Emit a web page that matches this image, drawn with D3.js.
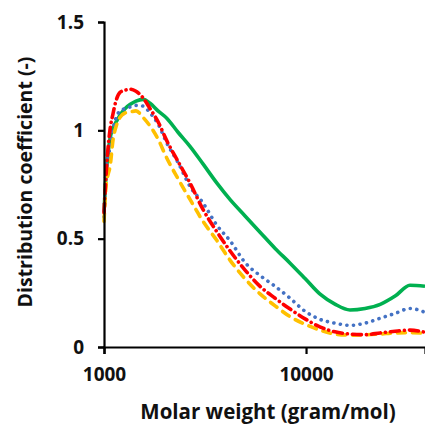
<!DOCTYPE html>
<html><head><meta charset="utf-8">
<script src="https://cdn.jsdelivr.net/npm/d3@7/dist/d3.min.js"></script>
<style>body{margin:0;background:#fff}svg{display:block}</style>
</head><body><svg id="c" width="425" height="424"></svg>
<script>
const molarWeight = [1000,1025,1050,1070,1110,1150,1200,1270,1350,1440,1560,1690,1850,2050,2330,2670,3090,3630,4210,4990,5920,7030,8340,9890,11700,13900,16500,19600,23300,27600,32700,38800];
const green  = [0.62,0.80,0.90,0.96,1.01,1.04,1.07,1.10,1.12,1.135,1.143,1.125,1.09,1.055,0.99,0.925,0.845,0.755,0.68,0.605,0.53,0.455,0.387,0.316,0.245,0.198,0.171,0.178,0.197,0.235,0.285,0.28];
const blue   = [0.60,0.825,0.88,0.92,1.01,1.06,1.09,1.10,1.108,1.115,1.112,1.08,1.03,0.94,0.85,0.74,0.665,0.56,0.49,0.39,0.33,0.28,0.225,0.165,0.128,0.11,0.10,0.11,0.133,0.155,0.178,0.16];
const red    = [0.62,0.80,0.93,1.00,1.08,1.14,1.175,1.185,1.19,1.18,1.15,1.10,1.04,0.95,0.855,0.755,0.635,0.53,0.443,0.355,0.28,0.225,0.175,0.13,0.093,0.07,0.06,0.057,0.065,0.073,0.078,0.068];
const orange = [0.58,0.75,0.80,0.83,0.96,1.02,1.06,1.08,1.085,1.09,1.06,1.02,0.96,0.87,0.775,0.68,0.58,0.49,0.40,0.315,0.245,0.19,0.14,0.105,0.078,0.06,0.055,0.056,0.06,0.065,0.066,0.063];
const xTicks = [1000,10000];
const yTicks = [0,0.5,1,1.5];
const yTickLabels = ["0","0.5","1","1.5"];
const xTitle = "Molar weight (gram/mol)";
const yTitle = "Distribution coefficient (-)";

const svg = d3.select("#c");
const x = d3.scaleLog().domain([1000,38800]).range([104,425]);
const y = d3.scaleLinear().domain([0,1.5]).range([347,22]);
const font = "'Open Sans', sans-serif";

const series = [
  {v:green,  color:"#00b050", dash:null},
  {v:blue,   color:"#4472c4", dash:"0.1 6.5"},
  {v:orange, color:"#ffc000", dash:"8 7"},
  {v:red,    color:"#ff0000", dash:"9 5 0.1 5"}
];
const line = d3.line().x((d,i)=>x(molarWeight[i])).y(d=>y(d)).curve(d3.curveMonotoneX);
svg.append("defs").append("clipPath").attr("id","pc").append("rect")
  .attr("x",100).attr("y",0).attr("width",325).attr("height",360);
const g = svg.append("g").attr("clip-path","url(#pc)");
series.forEach(s=>{
  g.append("path").datum(s.v).attr("d",line).attr("fill","none")
   .attr("stroke",s.color).attr("stroke-width",3.6)
   .attr("stroke-linecap", s.dash ? "round" : "butt")
   .attr("stroke-linejoin","round")
   .attr("stroke-dasharray", s.dash);
});

// Y axis
const ya = svg.append("g").attr("transform","translate(104,0)")
  .call(d3.axisLeft(y).tickValues(yTicks).tickFormat((d,i)=>yTickLabels[i]).tickSize(6).tickPadding(14));
ya.select(".domain").attr("stroke","#000").attr("stroke-width",2.2);
ya.selectAll(".tick line").attr("stroke","#000").attr("stroke-width",2.2);
ya.selectAll(".tick text").attr("font-family",font).attr("font-weight","bold").attr("font-size",19).attr("fill","#111");

// X axis
const xa = svg.append("g").attr("transform","translate(0,347)")
  .call(d3.axisBottom(x).tickValues(xTicks).tickFormat(d3.format("d")).tickSize(7).tickPadding(14));
xa.select(".domain").attr("stroke","#000").attr("stroke-width",2.2);
xa.selectAll(".tick line").attr("stroke","#000").attr("stroke-width",2.2);
xa.selectAll(".tick text").attr("font-family",font).attr("font-weight","bold").attr("font-size",19).attr("fill","#111");

svg.append("text").attr("x",268).attr("y",419).attr("text-anchor","middle")
  .attr("font-family",font).attr("font-weight","bold").attr("font-size",20.5).attr("fill","#111").text(xTitle);
svg.append("text").attr("transform","translate(32,182) rotate(-90)").attr("text-anchor","middle")
  .attr("font-family",font).attr("font-weight","bold").attr("font-size",19.5).attr("fill","#111").text(yTitle);
</script></body></html>
